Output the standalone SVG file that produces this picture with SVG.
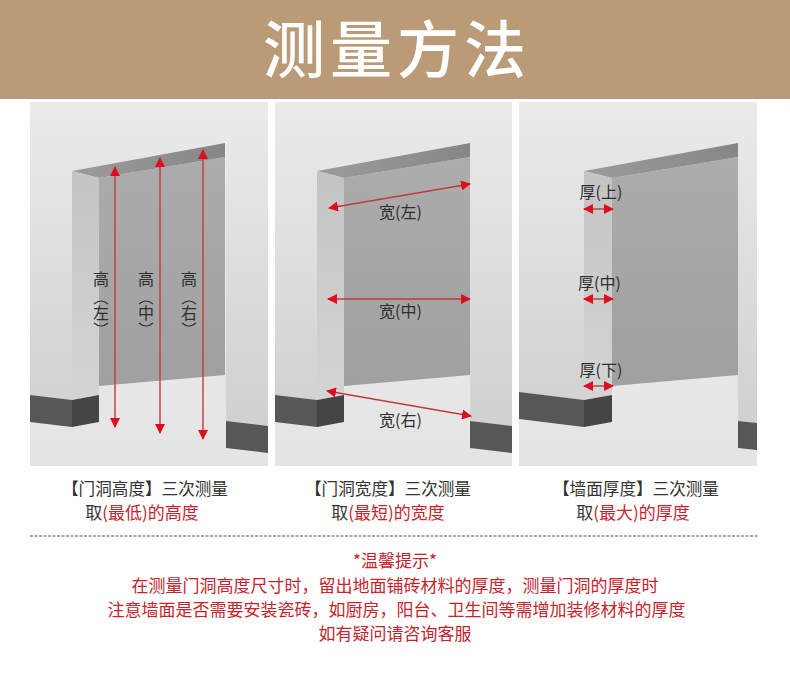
<svg xmlns="http://www.w3.org/2000/svg" width="790" height="696" viewBox="0 0 790 696">
<style>
text{font-family:"Noto Sans CJK SC","Noto Sans",sans-serif}
.lb{font-size:16px;fill:#2e2e2e;text-anchor:middle}
.cap{font-size:16.6px;fill:#333;text-anchor:middle}
.cap2{font-size:17px;fill:#333;text-anchor:middle}
.red{fill:#c8232c}
.tip{font-size:17px;fill:#c8232c;text-anchor:middle}
.arr{stroke:#c23a3a;stroke-width:1.4;fill:none;marker-start:url(#a);marker-end:url(#a)}
.jamb{fill:url(#gj)}.back{fill:url(#gb)}.lintel{fill:url(#gl)}
.floor{fill:url(#gf)}.bd{fill:#575757}.bd2{fill:#454545}
.wall{fill:url(#gw)}
</style>
<defs>
<marker id="a" viewBox="0 0 10 10" refX="9" refY="5" markerWidth="10" markerHeight="10" markerUnits="userSpaceOnUse" orient="auto-start-reverse"><path d="M0 0L10 5L0 10Z" fill="#dc0f1e"/></marker>
<linearGradient id="gw" x1="0" y1="0" x2="0" y2="1"><stop offset="0" stop-color="#ebebeb"/><stop offset="1" stop-color="#d0d0d0"/></linearGradient>
<linearGradient id="gj" x1="0" y1="0" x2="0" y2="1"><stop offset="0" stop-color="#c4c4c4"/><stop offset="1" stop-color="#d4d4d4"/></linearGradient>
<linearGradient id="gb" x1="0" y1="0" x2="0" y2="1"><stop offset="0" stop-color="#acacac"/><stop offset="1" stop-color="#a0a0a0"/></linearGradient>
<linearGradient id="gl" x1="0" y1="0" x2="1" y2="0"><stop offset="0" stop-color="#9c9c9c"/><stop offset="1" stop-color="#868686"/></linearGradient>
<linearGradient id="gf" x1="0" y1="0" x2="0" y2="1"><stop offset="0" stop-color="#f2f2f2"/><stop offset="1" stop-color="#e4e4e4"/></linearGradient>
</defs>
<rect width="790" height="696" fill="#fff"/>
<g id="header"><rect width="790" height="99" fill="#ba9a77"/>
<text x="397" y="73" font-size="62" font-weight="500" letter-spacing="5" fill="#fff" text-anchor="middle">测量方法</text></g>

<g id="panel-height">
<rect x="30" y="102" width="238" height="364" class="floor"/>
<path class="wall" d="M30 102H268V426L226 421V143L72 171V400L30 395Z"/>
<path class="back" d="M99 178L225 157V375L99 386Z"/>
<path class="lintel" d="M72 171L225 143V157L99 178Z"/>
<path class="jamb" d="M72 171L99 178V395L72 400Z"/>
<path class="bd" d="M30 395L72 400V427L30 422Z"/><path class="bd2" d="M72 400L99 395V422L72 427Z"/>
<path class="bd" d="M226 421L268 426V453L226 448Z"/>
<text class="lb" x="101" y="285">高</text><text class="lb" x="146" y="285">高</text><text class="lb" x="189" y="285">高</text>
<text class="lb" x="101" y="319">左</text><text class="lb" x="146" y="319">中</text><text class="lb" x="189" y="319">右</text>
<g fill="none" stroke="#2e2e2e" stroke-width="1.1">
<path d="M94 304Q101 298 108 304M94 323Q101 329 108 323M139 304Q146 298 153 304M139 323Q146 329 153 323M182 304Q189 298 196 304M182 323Q189 329 196 323"/></g>
</g>

<g id="panel-width">
<rect x="275" y="102" width="237" height="364" class="floor"/>
<path class="wall" d="M275 102H512V426L470 421V143L317 171V400L275 395Z"/>
<path class="back" d="M344 178L470 157V375L344 386Z"/>
<path class="lintel" d="M317 171L470 143V157L344 178Z"/>
<path class="jamb" d="M317 171L344 178V395L317 400Z"/>
<path class="bd" d="M275 395L317 400V427L275 422Z"/><path class="bd2" d="M317 400L344 395V422L317 427Z"/>
<path class="bd" d="M470 421L512 426V453L470 448Z"/>
<text class="lb" x="400.500" y="218">宽(左)</text><text class="lb" x="400.500" y="317">宽(中)</text><text class="lb" x="400.500" y="426">宽(右)</text>
</g>

<g id="panel-thickness">
<rect x="519" y="102" width="238" height="364" class="floor"/>
<path class="wall" d="M519 102H757V423L738 421V143L584 171V400L519 392Z"/>
<path class="back" d="M612 178L738 157V375L612 386Z"/>
<path class="lintel" d="M584 171L738 143V157L612 178Z"/>
<path class="jamb" d="M584 171L612 178V395L584 400Z"/>
<path class="bd" d="M519 392L584 400V427L519 419Z"/><path class="bd2" d="M584 400L612 395V422L584 427Z"/>
<path class="bd" d="M738 421L757 423V450L738 448Z"/>
<text class="lb" x="601" y="198">厚(上)</text><text class="lb" x="599.500" y="289">厚(中)</text><text class="lb" x="601" y="376">厚(下)</text>
</g>

<g id="connectors">
<path class="arr" d="M115 167V427"/><path class="arr" d="M160 158V433"/><path class="arr" d="M203 150V439"/>
<path class="arr" d="M329 208L470 184"/><path class="arr" d="M328 299H470"/><path class="arr" d="M327 391L471 416"/>
<path class="arr" d="M584 209H613"/><path class="arr" d="M584 299H613"/><path class="arr" d="M584 386H613"/>
</g>

<g id="captions">
<text class="cap" x="145" y="495">【门洞高度】三次测量</text>
<text class="cap2" x="142" y="519">取<tspan class="red">(最低)的高度</tspan></text>
<text class="cap" x="388" y="495">【门洞宽度】三次测量</text>
<text class="cap2" x="388" y="519">取<tspan class="red">(最短)的宽度</tspan></text>
<text class="cap" x="636" y="495">【墙面厚度】三次测量</text>
<text class="cap2" x="633" y="519">取<tspan class="red">(最大)的厚度</tspan></text>
</g>
<line id="divider" x1="30" y1="536" x2="758" y2="536" stroke="#555" stroke-width="1" stroke-dasharray="3 1.500"/>
<g id="tips">
<text class="tip" x="395" y="567">*温馨提示*</text>
<text class="tip" x="395" y="592">在测量门洞高度尺寸时，留出地面铺砖材料的厚度，测量门洞的厚度时</text>
<text class="tip" x="396.500" y="616">注意墙面是否需要安装瓷砖，如厨房，阳台、卫生间等需增加装修材料的厚度</text>
<text class="tip" x="395" y="640">如有疑问请咨询客服</text>
</g>
</svg>
